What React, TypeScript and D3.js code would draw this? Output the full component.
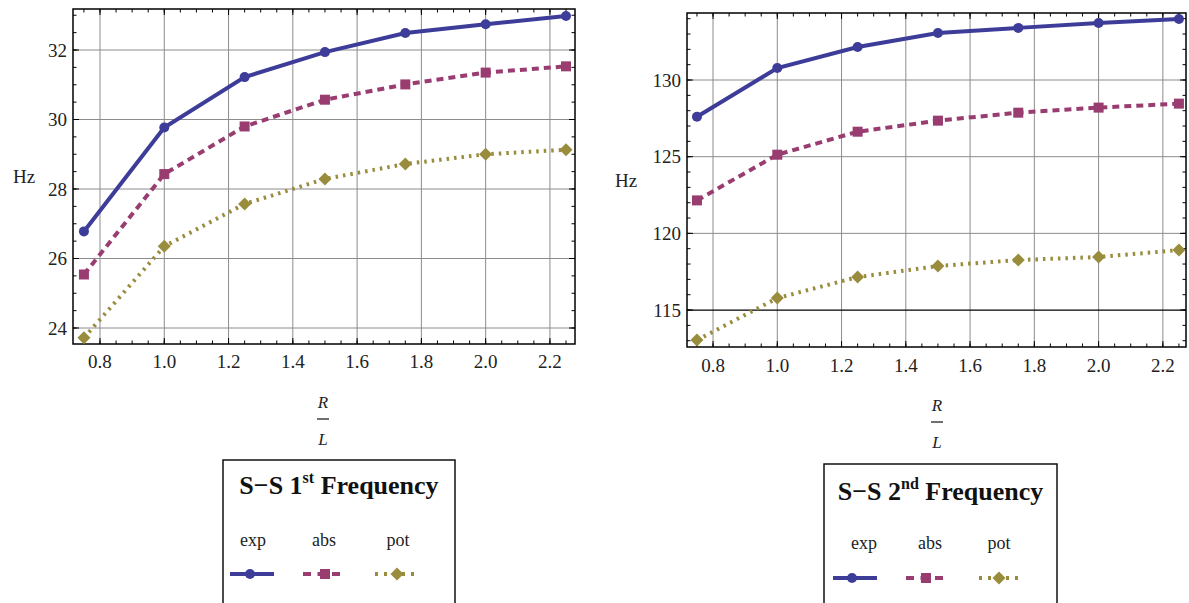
import React from "react";
import * as d3 from "d3";

// ---------- data ----------
const ratio = [0.75, 1.0, 1.25, 1.5, 1.75, 2.0, 2.25];
const exp1 = [26.78, 29.77, 31.22, 31.94, 32.49, 32.74, 32.98];
const abs1 = [25.54, 28.43, 29.8, 30.57, 31.01, 31.35, 31.53];
const pot1 = [23.72, 26.35, 27.57, 28.29, 28.72, 29.0, 29.13];
const exp2 = [127.6, 130.78, 132.15, 133.07, 133.4, 133.72, 133.98];
const abs2 = [122.15, 125.13, 126.63, 127.35, 127.87, 128.2, 128.46];
const pot2 = [113.04, 115.78, 117.15, 117.87, 118.26, 118.46, 118.91];
const xTicks = [0.8, 1.0, 1.2, 1.4, 1.6, 1.8, 2.0, 2.2];
const yTicks1 = [24, 26, 28, 30, 32];
const yTicks2 = [115, 120, 125, 130];
const seriesNames = ["exp", "abs", "pot"];

const COLORS = ["#3d3d99", "#993d71", "#998c3d"];
const DASH = ["none", "7 5", "2.5 5"];
const FONT = "'Liberation Serif', 'DejaVu Serif', serif";

function Marker({ kind, x, y, color }: { kind: number; x: number; y: number; color: string }) {
  if (kind === 0) return <circle cx={x} cy={y} r={5} fill={color} />;
  if (kind === 1) return <rect x={x - 5} y={y - 5} width={10} height={10} fill={color} />;
  const s = 6.5;
  return <path d={`M${x},${y - s}L${x + s},${y}L${x},${y + s}L${x - s},${y}Z`} fill={color} />;
}

type PanelProps = {
  x0: number; x1: number; y0: number; y1: number;
  xDomain: [number, number]; yDomain: [number, number];
  yTicks: number[]; yMinorStep: number;
  series: number[][];
  blackY?: number;
  hz: [number, number];
  rl: [number, number];
  xLabelBaseline: number;
};

function Panel(p: PanelProps) {
  const xs = d3.scaleLinear().domain(p.xDomain).range([p.x0, p.x1]);
  const ys = d3.scaleLinear().domain(p.yDomain).range([p.y1, p.y0]);
  const xMinor = d3.range(0.75, 2.3, 0.05).filter((v) => v >= p.xDomain[0] && v <= p.xDomain[1]);
  const yMinor = d3.range(Math.ceil(p.yDomain[0] / p.yMinorStep) * p.yMinorStep, p.yDomain[1], p.yMinorStep);
  const line = d3.line<number>().x((_, i) => xs(ratio[i])).y((d) => ys(d));
  return (
    <g>
      {xTicks.map((t) => (
        <line key={"gx" + t} x1={xs(t)} x2={xs(t)} y1={p.y0} y2={p.y1} stroke="#8c8c8c" strokeWidth={1} />
      ))}
      {p.yTicks.map((t) => (
        <line key={"gy" + t} x1={p.x0} x2={p.x1} y1={ys(t)} y2={ys(t)}
          stroke={p.blackY === t ? "#000" : "#8c8c8c"} strokeWidth={p.blackY === t ? 1.2 : 1} />
      ))}
      {xMinor.map((t, i) => (
        <g key={"mx" + i}>
          <line x1={xs(t)} x2={xs(t)} y1={p.y1} y2={p.y1 - 3.5} stroke="#000" strokeWidth={1} />
          <line x1={xs(t)} x2={xs(t)} y1={p.y0} y2={p.y0 + 3.5} stroke="#000" strokeWidth={1} />
        </g>
      ))}
      {yMinor.map((t, i) => (
        <g key={"my" + i}>
          <line x1={p.x0} x2={p.x0 + 3.5} y1={ys(t)} y2={ys(t)} stroke="#000" strokeWidth={1} />
          <line x1={p.x1} x2={p.x1 - 3.5} y1={ys(t)} y2={ys(t)} stroke="#000" strokeWidth={1} />
        </g>
      ))}
      {xTicks.map((t) => (
        <g key={"tx" + t}>
          <line x1={xs(t)} x2={xs(t)} y1={p.y1} y2={p.y1 - 6} stroke="#000" strokeWidth={1} />
          <line x1={xs(t)} x2={xs(t)} y1={p.y0} y2={p.y0 + 6} stroke="#000" strokeWidth={1} />
          <text x={xs(t)} y={p.xLabelBaseline} textAnchor="middle" fontFamily={FONT} fontSize={19} fill="#222">
            {t.toFixed(1)}
          </text>
        </g>
      ))}
      {p.yTicks.map((t) => (
        <g key={"ty" + t}>
          <line x1={p.x0} x2={p.x0 + 6} y1={ys(t)} y2={ys(t)} stroke="#000" strokeWidth={1} />
          <line x1={p.x1} x2={p.x1 - 6} y1={ys(t)} y2={ys(t)} stroke="#000" strokeWidth={1} />
          <text x={p.x0 - 6} y={ys(t) + 6.5} textAnchor="end" fontFamily={FONT} fontSize={19} fill="#222">
            {t}
          </text>
        </g>
      ))}
      <rect x={p.x0} y={p.y0} width={p.x1 - p.x0} height={p.y1 - p.y0} fill="none" stroke="#000" strokeWidth={1.5} />
      {p.series.map((s, k) => (
        <g key={"s" + k}>
          <path d={line(s) || ""} fill="none" stroke={COLORS[k]} strokeWidth={4} strokeDasharray={DASH[k]} />
          {s.map((v, i) => (
            <Marker key={i} kind={k} x={xs(ratio[i])} y={ys(v)} color={COLORS[k]} />
          ))}
        </g>
      ))}
      <text x={p.hz[0]} y={p.hz[1]} textAnchor="middle" fontFamily={FONT} fontSize={19} fill="#222">Hz</text>
      <text x={p.rl[0]} y={p.rl[1]} textAnchor="middle" fontFamily={FONT} fontSize={17} fontStyle="italic" fill="#222">R</text>
      <line x1={p.rl[0] - 6} x2={p.rl[0] + 6} y1={p.rl[1] + 11} y2={p.rl[1] + 11} stroke="#222" strokeWidth={1.3} />
      <text x={p.rl[0]} y={p.rl[1] + 37} textAnchor="middle" fontFamily={FONT} fontSize={17} fontStyle="italic" fill="#222">L</text>
    </g>
  );
}

type LegendProps = {
  bx0: number; bx1: number; by0: number;
  ordinal: string; sup: string;
  titleY: number; labelY: number; symY: number;
  labelX: number[]; symX: number[][];
};

function Legend(l: LegendProps) {
  const cx = (l.bx0 + l.bx1) / 2;
  return (
    <g>
      <rect x={l.bx0} y={l.by0} width={l.bx1 - l.bx0} height={200} fill="#fff" stroke="#111" strokeWidth={1.5} />
      <text x={cx} y={l.titleY} textAnchor="middle" fontFamily={FONT} fontSize={26} fontWeight="bold" fill="#111">
        {"S\u2212S " + l.ordinal}
        <tspan fontSize={16} dy={-11}>{l.sup}</tspan>
        <tspan dy={11}>{" Frequency"}</tspan>
      </text>
      {seriesNames.map((n, k) => (
        <g key={n}>
          <text x={l.labelX[k]} y={l.labelY} textAnchor="middle" fontFamily={FONT} fontSize={18} fill="#222">{n}</text>
          <line x1={l.symX[k][0]} x2={l.symX[k][1]} y1={l.symY} y2={l.symY} stroke={COLORS[k]} strokeWidth={4}
            strokeDasharray={k === 0 ? "none" : k === 1 ? "8 6.5" : "3 6"} />
          <Marker kind={k} x={l.symX[k][2]} y={l.symY} color={COLORS[k]} />
        </g>
      ))}
    </g>
  );
}

export default function App() {
  return (
    <svg width={1189} height={603} style={{ position: "absolute", left: 0, top: 0, background: "#fff" }}>
      <rect x={0} y={0} width={1189} height={603} fill="#fff" />
      <Panel x0={73} x1={575} y0={9} y1={344} xDomain={[0.716, 2.278]} yDomain={[23.54, 33.18]}
        yTicks={yTicks1} yMinorStep={0.5} series={[exp1, abs1, pot1]} hz={[24, 183]} rl={[323, 408]}
        xLabelBaseline={368} />
      <Panel x0={687} x1={1186} y0={13} y1={347} xDomain={[0.719, 2.272]} yDomain={[112.59, 134.37]}
        yTicks={yTicks2} yMinorStep={1} series={[exp2, abs2, pot2]} blackY={115} hz={[626, 187]} rl={[937, 411]}
        xLabelBaseline={372} />
      <Legend bx0={223} bx1={455} by0={460} ordinal="1" sup="st" titleY={494} labelY={546} symY={574}
        labelX={[253, 324, 398]} symX={[[230, 274, 250], [303, 345, 325], [375, 420, 397]]} />
      <Legend bx0={824} bx1={1057} by0={464} ordinal="2" sup="nd" titleY={500} labelY={549} symY={578}
        labelX={[864, 930, 999]} symX={[[833, 877, 852], [906, 947, 926], [979, 1023, 999]]} />
    </svg>
  );
}
